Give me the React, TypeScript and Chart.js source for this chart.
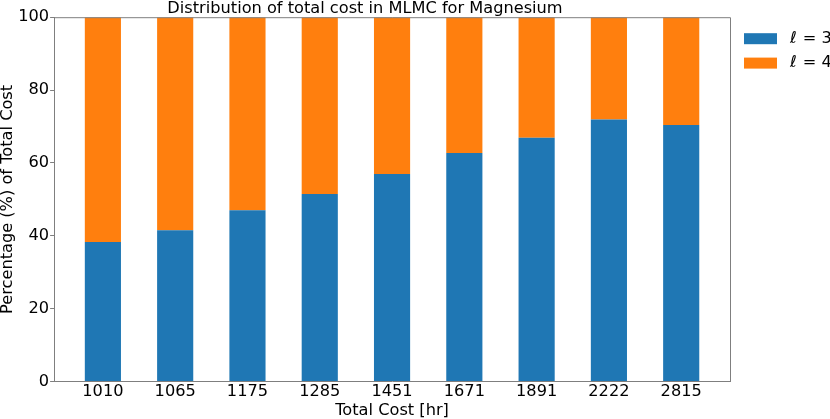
import React, { useEffect, useRef } from "react";
import { Chart, registerables } from "chart.js";

Chart.register(...registerables);

const categories = ["1010", "1065", "1175", "1285", "1451", "1671", "1891", "2222", "2815"];
const level3 = [38.3, 41.5, 47.0, 51.5, 57.0, 62.7, 66.9, 71.9, 70.4];
const level4 = level3.map((v) => 100 - v);
const seriesNames = ["3", "4"];
const yTicks = [0, 20, 40, 60, 80, 100];

const FONT = "'DejaVu Sans', sans-serif";
const FS = 16.2;

const framePlugin = {
  id: "frameAndLegend",
  afterDraw(chart: any) {
    const { ctx, chartArea } = chart;
    ctx.save();
    ctx.strokeStyle = "#7f7f7f";
    ctx.lineWidth = 1;
    ctx.beginPath();
    ctx.moveTo(chartArea.left, chartArea.top + 0.5);
    ctx.lineTo(chartArea.right + 0.5, chartArea.top + 0.5);
    ctx.lineTo(chartArea.right + 0.5, chartArea.bottom);
    ctx.stroke();

    // legend
    const x0 = chartArea.right + 14;
    let y0 = chartArea.top + 16;
    chart.data.datasets.forEach((ds: any, i: number) => {
      ctx.fillStyle = ds.backgroundColor;
      ctx.fillRect(x0, y0, 33, 11);
      const ty = y0 + 5.5;
      ctx.fillStyle = "#000";
      ctx.textBaseline = "middle";
      ctx.textAlign = "left";
      ctx.font = `italic ${FS}px ${FONT}`;
      const tx = x0 + 46;
      ctx.fillText("\u2113", tx, ty);
      const w = ctx.measureText("\u2113").width;
      ctx.font = `${FS}px ${FONT}`;
      ctx.fillText(" = " + seriesNames[i], tx + w + 1, ty);
      y0 += 24.4;
    });
    ctx.restore();
  },
};

export default function App() {
  const ref = useRef<HTMLCanvasElement>(null);
  useEffect(() => {
    document.body.style.margin = "0";
    const canvas = ref.current!;
    const chart = new Chart(canvas, {
      type: "bar",
      data: {
        datasets: [
          {
            label: "ℓ = 3",
            data: level3.map((v, i) => ({ x: i, y: v })),
            backgroundColor: "#1f77b4",
            barPercentage: 0.5,
            categoryPercentage: 1.0,
          },
          {
            label: "ℓ = 4",
            data: level4.map((v, i) => ({ x: i, y: v })),
            backgroundColor: "#ff7f0e",
            barPercentage: 0.5,
            categoryPercentage: 1.0,
          },
        ],
      },
      options: {
        responsive: false,
        animation: false,
        layout: { padding: { top: 1, left: 0, right: 100, bottom: 0 } },
        plugins: {
          legend: { display: false },
          tooltip: { enabled: false },
          title: {
            display: true,
            text: "Distribution of total cost in MLMC for Magnesium",
            color: "#000",
            font: { family: FONT, size: FS, weight: "normal", lineHeight: 1.0 },
            padding: { top: 0, bottom: 0 },
          },
        },
        scales: {
          x: {
            type: "linear",
            stacked: true,
            offset: false,
            min: -0.675,
            max: 8.675,
            afterBuildTicks: (scale: any) => {
              scale.ticks = categories.map((_, i) => ({ value: i }));
            },
            ticks: {
              color: "#000",
              font: { family: FONT, size: FS, lineHeight: 1.0 },
              padding: 2,
              maxRotation: 0,
              autoSkip: false,
              callback: (v: any) => categories[v as number] ?? "",
            },
            grid: { display: true, drawOnChartArea: false, drawTicks: false, tickLength: 0 },
            border: { display: true, color: "#7f7f7f", width: 1 },
            title: {
              display: true,
              text: "Total Cost [hr]",
              color: "#000",
              font: { family: FONT, size: FS, lineHeight: 1.0 },
              padding: { top: 1, bottom: 0 },
            },
          },
          y: {
            stacked: true,
            min: 0,
            max: 100,
            afterBuildTicks: (scale: any) => {
              scale.ticks = yTicks.map((v) => ({ value: v }));
            },
            ticks: {
              color: "#000",
              font: { family: FONT, size: FS },
              padding: 1,
            },
            grid: { display: true, drawOnChartArea: false, drawTicks: true, tickLength: 4, color: "#7f7f7f" },
            border: { display: true, color: "#7f7f7f", width: 1 },
            title: {
              display: true,
              text: "Percentage (%) of Total Cost",
              color: "#000",
              font: { family: FONT, size: FS, lineHeight: 1.0 },
              padding: { top: 0, bottom: 1 },
            },
          },
        },
      },
      plugins: [framePlugin],
    });
    return () => chart.destroy();
  }, []);
  return (
    <div style={{ width: 830, height: 419 }}>
      <canvas ref={ref} width={830} height={419} style={{ display: "block" }} />
    </div>
  );
}
